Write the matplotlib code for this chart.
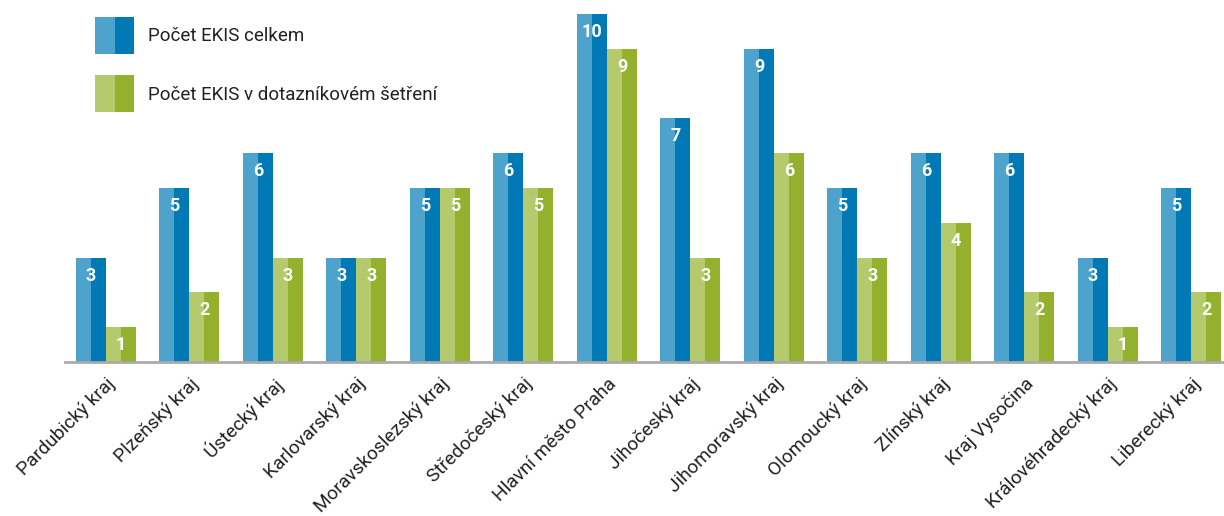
import matplotlib
matplotlib.use("Agg")
import matplotlib.pyplot as plt
from matplotlib.patches import Rectangle
from matplotlib.legend_handler import HandlerBase
import numpy as np

plt.rcParams['font.family'] = ['Roboto', 'DejaVu Sans']

regions = ["Pardubický kraj", "Plzeňský kraj", "Ústecký kraj", "Karlovarský kraj",
           "Moravskoslezský kraj", "Středočeský kraj", "Hlavní město Praha",
           "Jihočeský kraj", "Jihomoravský kraj", "Olomoucký kraj", "Zlínský kraj",
           "Kraj Vysočina", "Královéhradecký kraj", "Liberecký kraj"]
total = [3, 5, 6, 3, 5, 6, 10, 7, 9, 5, 6, 6, 3, 5]
survey = [1, 2, 3, 3, 5, 5, 9, 3, 6, 3, 4, 2, 1, 2]
series_names = ["Počet EKIS celkem", "Počet EKIS v dotazníkovém šetření"]

blue_light, blue_dark = "#4ea3cd", "#0079b5"
green_light, green_dark = "#b5c96d", "#93b12d"

W, H = 1224, 516
fig = plt.figure(figsize=(W/100, H/100), dpi=100)
ax = fig.add_axes([65/W, (H-362)/H, (1224-65)/W, (362-14)/H])

x = np.arange(len(regions))
hw = 0.18  # half-bar width

ax.bar(x - 2*hw, total, width=hw, align='edge', color=blue_light, linewidth=0)
ax.bar(x - hw, total, width=hw, align='edge', color=blue_dark, linewidth=0)
ax.bar(x, survey, width=hw, align='edge', color=green_light, linewidth=0)
ax.bar(x + hw, survey, width=hw, align='edge', color=green_dark, linewidth=0)

for xi, v in zip(x, total):
    ax.annotate(str(v), (xi - hw, v), xytext=(0, -16), textcoords='offset pixels',
                ha='center', va='center_baseline', color='white', fontsize=13, fontweight='bold')
for xi, v in zip(x, survey):
    ax.annotate(str(v), (xi + hw, v), xytext=(0, -16), textcoords='offset pixels',
                ha='center', va='center_baseline', color='white', fontsize=13, fontweight='bold')

ax.set_xlim(-0.49, 13.39)
ax.set_ylim(0, 10)
ax.set_yticks([])
ax.set_xticks(x)
ax.set_xticklabels(regions, rotation=45, ha='right', va='top', rotation_mode='anchor',
                   fontsize=13.7, color='#222222')
ax.tick_params(axis='x', length=0, pad=9)
for s in ['top', 'right', 'left']:
    ax.spines[s].set_visible(False)
ax.spines['bottom'].set_color('#aaaaaa')
ax.spines['bottom'].set_linewidth(2)


class TwoTone(HandlerBase):
    def __init__(self, c1, c2):
        super().__init__()
        self.c1, self.c2 = c1, c2

    def create_artists(self, legend, orig_handle, xdescent, ydescent, width, height, fontsize, trans):
        r1 = Rectangle((-xdescent, -ydescent), width/2, height, facecolor=self.c1, linewidth=0, transform=trans)
        r2 = Rectangle((-xdescent + width/2, -ydescent), width/2, height, facecolor=self.c2, linewidth=0, transform=trans)
        return [r1, r2]


h1 = Rectangle((0, 0), 1, 1)
h2 = Rectangle((0, 0), 1, 1)
leg = fig.legend([h1, h2], series_names,
                 handler_map={h1: TwoTone(blue_light, blue_dark), h2: TwoTone(green_light, green_dark)},
                 loc='upper left', bbox_to_anchor=(95/W, 1 - 17/H), borderaxespad=0, borderpad=0,
                 frameon=False, fontsize=13.5, handlelength=2.1, handleheight=2.65,
                 handletextpad=0.7, labelspacing=1.15)
for t in leg.get_texts():
    t.set_color('#222222')

fig.savefig("out.png", dpi=100)
